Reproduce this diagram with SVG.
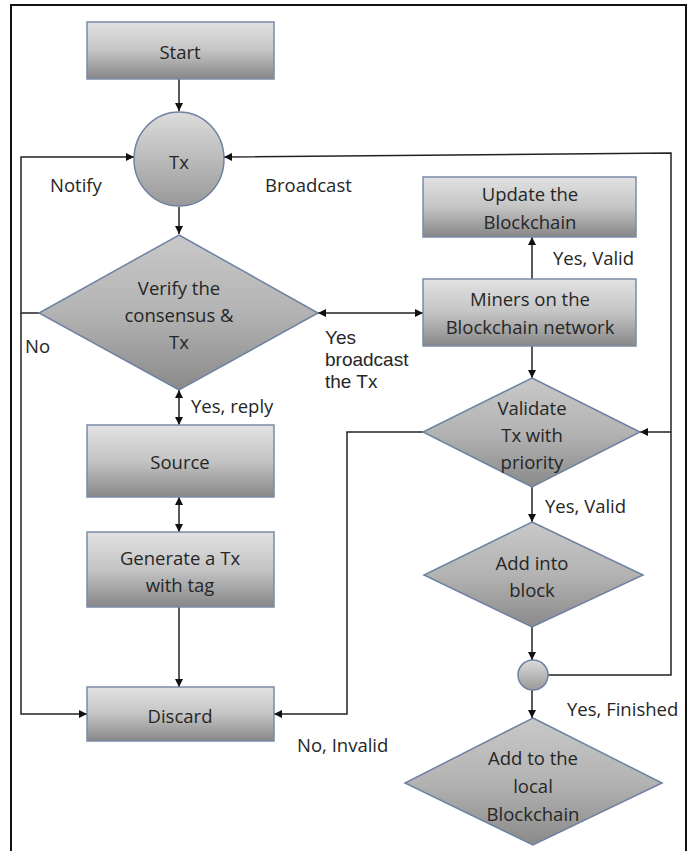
<svg xmlns="http://www.w3.org/2000/svg" width="695" height="851" viewBox="0 0 695 851">
<style>
text{font-family:"Open Sans","Liberation Sans",sans-serif;font-size:18.5px;fill:#262626;dominant-baseline:central}
.c{text-anchor:middle}
.s{font-family:"Liberation Sans",Arial,sans-serif;font-size:19px}
.box{fill:url(#gb);stroke:#7b8ca6;stroke-width:1.5}
.dia{fill:url(#gd);stroke:#6e82a0;stroke-width:1.5}
.circ{fill:url(#gc);stroke:#6e82a0;stroke-width:1.5}
.ln{fill:none;stroke:#222;stroke-width:1.5}
</style>
<defs>
<linearGradient id="gb" x1="0" y1="0" x2="0" y2="1">
<stop offset="0" stop-color="#e2e2e2"/><stop offset="0.5" stop-color="#c4c4c4"/><stop offset="1" stop-color="#878787"/>
</linearGradient>
<linearGradient id="gd" x1="0" y1="0" x2="0" y2="1">
<stop offset="0" stop-color="#c8c8c8"/><stop offset="0.5" stop-color="#b3b3b3"/><stop offset="1" stop-color="#8a8a8a"/>
</linearGradient>
<linearGradient id="gc" x1="0" y1="0" x2="0" y2="1">
<stop offset="0" stop-color="#dcdcdc"/><stop offset="1" stop-color="#999999"/>
</linearGradient>
<marker id="ah" viewBox="0 0 10 10" refX="10" refY="5" markerWidth="8" markerHeight="8" markerUnits="userSpaceOnUse" orient="auto-start-reverse">
<path d="M0,0 L10,5 L0,10 z" fill="#111"/>
</marker>
</defs>
<rect x="11" y="5" width="675" height="860" fill="#fff" stroke="#111" stroke-width="2"/>
<g id="connectors">
<path class="ln" d="M179,79 V111" marker-end="url(#ah)"/>
<path class="ln" d="M179,207 V234" marker-end="url(#ah)"/>
<path class="ln" d="M39,313 H21 V157 H134" marker-end="url(#ah)"/>
<path class="ln" d="M21,313 V714 H87" marker-end="url(#ah)"/>
<path class="ln" d="M548,675 H671 V153 L224,157" marker-end="url(#ah)"/>
<path class="ln" d="M671,432 H640" marker-end="url(#ah)"/>
<path class="ln" d="M318,313 H423" marker-start="url(#ah)" marker-end="url(#ah)"/>
<path class="ln" d="M179,390 V425" marker-start="url(#ah)" marker-end="url(#ah)"/>
<path class="ln" d="M179,497 V532" marker-start="url(#ah)" marker-end="url(#ah)"/>
<path class="ln" d="M179,607 V687" marker-end="url(#ah)"/>
<path class="ln" d="M423,432 H347 V714 H274" marker-end="url(#ah)"/>
<path class="ln" d="M532,279 V237" marker-end="url(#ah)"/>
<path class="ln" d="M532,346 V378" marker-end="url(#ah)"/>
<path class="ln" d="M532,487 V522" marker-end="url(#ah)"/>
<path class="ln" d="M532,627 V660" marker-end="url(#ah)"/>
<path class="ln" d="M532,690 V718" marker-end="url(#ah)"/>
</g>
<g id="labels">
<text x="50" y="184">Notify</text>
<text x="265" y="184">Broadcast</text>
<text x="25" y="345">No</text>
<text class="s" x="325" y="337">Yes</text>
<text class="s" x="325" y="359">broadcast</text>
<text class="s" x="325" y="381">the Tx</text>
<text x="191" y="405">Yes, reply</text>
<text x="297" y="744">No, Invalid</text>
<text x="553" y="257">Yes, Valid</text>
<text x="545" y="505">Yes, Valid</text>
<text x="567" y="708">Yes, Finished</text>
</g>
<g id="start"><rect class="box" x="87" y="22" width="187" height="57"/><text class="c" x="180" y="51">Start</text></g>
<g id="tx"><ellipse class="circ" cx="179" cy="159" rx="45" ry="47"/><text class="c" x="179" y="161">Tx</text></g>
<g id="verify"><polygon class="dia" points="179,235 318,313 179,390 39,313"/><text class="c" x="179" y="287">Verify the</text><text class="c" x="179" y="314">consensus &amp;</text><text class="c" x="179" y="341">Tx</text></g>
<g id="source"><rect class="box" x="87" y="425" width="187" height="72"/><text class="c" x="180" y="461">Source</text></g>
<g id="generate"><rect class="box" x="87" y="532" width="187" height="75"/><text class="c" x="180" y="557">Generate a Tx</text><text class="c" x="180" y="584">with tag</text></g>
<g id="discard"><rect class="box" x="87" y="687" width="187" height="54"/><text class="c" x="180" y="715">Discard</text></g>
<g id="update"><rect class="box" x="423" y="177" width="213" height="60"/><text class="c" x="530" y="193">Update the</text><text class="c" x="530" y="221">Blockchain</text></g>
<g id="miners"><rect class="box" x="423" y="279" width="213" height="67"/><text class="c" x="530" y="298">Miners on the</text><text class="c" x="530" y="326">Blockchain network</text></g>
<g id="validate"><polygon class="dia" points="532,378 640,432 532,487 423,432"/><text class="c" x="532" y="407">Validate</text><text class="c" x="532" y="434">Tx with</text><text class="c" x="532" y="461">priority</text></g>
<g id="addblock"><polygon class="dia" points="532,522 643,575 532,627 424,575"/><text class="c" x="532" y="562">Add into</text><text class="c" x="532" y="589">block</text></g>
<g id="junction"><circle class="circ" cx="533" cy="675" r="15"/></g>
<g id="addlocal"><polygon class="dia" points="533,718 662,783 533,845 405,783"/><text class="c" x="533" y="757">Add to the</text><text class="c" x="533" y="785">local</text><text class="c" x="533" y="813">Blockchain</text></g>
</svg>
